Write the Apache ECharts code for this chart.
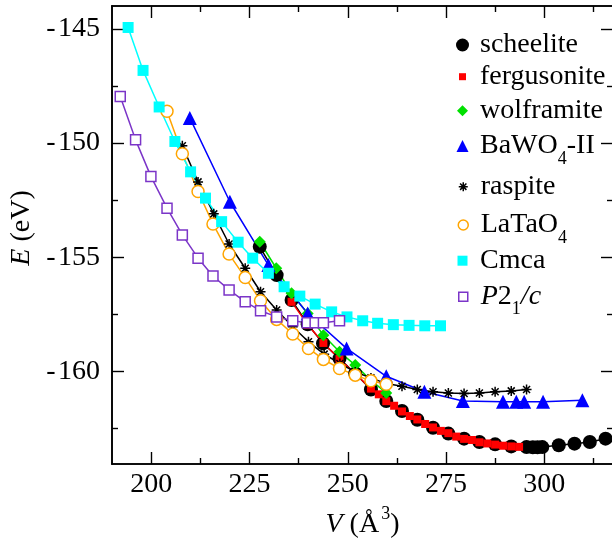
<!DOCTYPE html>
<html>
<head>
<meta charset="utf-8">
<script src="https://cdn.jsdelivr.net/npm/echarts@6/dist/echarts.min.js"></script>
<style>
  html, body { margin: 0; padding: 0; background: #fff; }
  #chart { width: 612px; height: 547px; }
</style>
</head>
<body>
<div id="chart"></div>
<script>
// Total energy E (eV) against cell volume V (Å^3) for the candidate structures.
const scheeliteV = [227.6, 231.9, 235.7, 239.8, 243.7, 247.9, 251.9, 255.9, 259.8, 263.8, 267.7, 271.7, 275.6, 279.6, 283.5, 287.5, 291.6, 295.5, 297.1, 298.3, 299.5, 303.7, 307.7, 311.6, 315.6];
const scheeliteE = [-154.54, -155.78, -156.87, -157.93, -158.77, -159.43, -160.09, -160.79, -161.29, -161.73, -162.11, -162.46, -162.72, -162.94, -163.09, -163.19, -163.28, -163.31, -163.32, -163.32, -163.31, -163.23, -163.16, -163.09, -162.94];

const fergusoniteV = [235.7, 239.8, 243.8, 247.9, 251.9, 255.9, 257.9, 259.8, 261.8, 263.8, 265.8, 267.7, 269.7, 271.7, 273.7, 275.6, 277.6, 279.6, 281.6, 283.5, 285.5, 287.5, 289.5, 291.6, 293.6];
const fergusoniteE = [-156.95, -157.95, -158.75, -159.45, -160.1, -160.75, -161.0, -161.3, -161.5, -161.75, -161.95, -162.1, -162.3, -162.45, -162.6, -162.7, -162.85, -162.95, -163.0, -163.1, -163.15, -163.2, -163.25, -163.28, -163.3];

const wolframiteV = [227.6, 231.8, 235.7, 239.8, 243.8, 247.9, 251.9, 255.9, 259.8];
const wolframiteE = [-154.32, -155.48, -156.58, -157.46, -158.41, -159.14, -159.72, -160.38, -160.94];

const bawo4V = [209.8, 220.0, 229.8, 239.8, 249.7, 259.8, 269.5, 279.3, 289.5, 292.9, 294.9, 299.7, 309.7];
const bawo4E = [-148.9, -152.57, -155.34, -157.46, -158.99, -160.21, -160.89, -161.29, -161.33, -161.33, -161.33, -161.33, -161.26];

const raspiteV = [207.9, 211.9, 215.9, 219.8, 223.9, 227.8, 231.9, 236.0, 240.0, 244.0, 248.0, 251.9, 255.9, 259.8, 263.8, 267.7, 271.7, 275.6, 279.6, 283.5, 287.5, 291.6, 295.5];
const raspiteE = [-150.12, -151.7, -153.1, -154.42, -155.48, -156.51, -157.31, -158.04, -158.7, -159.24, -159.65, -160.02, -160.28, -160.53, -160.65, -160.79, -160.89, -160.94, -160.96, -160.94, -160.89, -160.85, -160.79];

const latao4V = [204.0, 207.9, 211.9, 215.7, 219.8, 223.9, 227.8, 231.9, 236.0, 240.0, 243.8, 247.9, 251.9, 255.9, 259.8];
const latao4E = [-148.61, -150.47, -152.12, -153.54, -154.86, -155.89, -156.9, -157.72, -158.36, -158.99, -159.47, -159.87, -160.16, -160.41, -160.56];

const cmcaV = [194.1, 197.9, 202.0, 206.0, 210.0, 213.8, 217.9, 222.1, 225.8, 229.8, 233.8, 237.8, 241.7, 245.9, 249.8, 253.8, 257.6, 261.6, 265.6, 269.6, 273.6];
const cmcaE = [-144.94, -146.82, -148.42, -149.93, -151.26, -152.41, -153.44, -154.34, -155.04, -155.7, -156.29, -156.7, -157.05, -157.39, -157.61, -157.78, -157.89, -157.95, -157.98, -158.0, -158.0];

const p21cV = [192.1, 196.0, 199.9, 204.0, 207.9, 211.9, 215.7, 219.8, 223.9, 227.8, 231.9, 236.0, 239.7, 241.7, 243.8, 247.9];
const p21cE = [-147.96, -149.86, -151.46, -152.85, -154.02, -155.04, -155.82, -156.43, -156.95, -157.34, -157.61, -157.78, -157.87, -157.87, -157.87, -157.78];

// Axis ranges and tick positions
const xRange = [190, 317.5];
const yRange = [-164.05, -144];
const xMajorTicks = [200, 225, 250, 275, 300];
const xMinorTicks = [212.5, 237.5, 262.5, 287.5, 312.5];
const yMajorTicks = [-160, -155, -150, -145];
const yMinorTicks = [-162.5, -157.5, -152.5, -147.5];

const FONT = 'Liberation Serif';
const pairs = (xs, ys) => xs.map((x, i) => [x, ys[i]]);

// Eight-armed asterisk drawn as strokes
const asteriskPath = 'path://M0,5L10,5M5,0L5,10M1.5,1.5L8.5,8.5M1.5,8.5L8.5,1.5';

// Every legend label carries a subscript slot so all rows share one box height
const seriesDefs = [
  { name: 'scheelite', label: '{t|scheelite}{s| }', xs: scheeliteV, ys: scheeliteE, color: '#000000',
    symbol: 'circle', size: 14, fill: '#000000', border: 0, legendY: 45, legendSize: 13 },
  { name: 'fergusonite', label: '{t|fergusonite}{s| }', xs: fergusoniteV, ys: fergusoniteE, color: '#ff0000',
    symbol: 'rect', size: 8, fill: '#ff0000', border: 0, legendY: 76.7, legendSize: 7 },
  { name: 'wolframite', label: '{t|wolframite}{s| }', xs: wolframiteV, ys: wolframiteE, color: '#00e000',
    symbol: 'diamond', size: 12, fill: '#00e000', border: 0, legendY: 110.7, legendSize: 11 },
  { name: 'BaWO4-II', label: '{t|BaWO}{s|4}{t|-II}', xs: bawo4V, ys: bawo4E, color: '#0000ff',
    symbol: 'triangle', size: 14, fill: '#0000ff', border: 0, legendY: 146, legendSize: 12 },
  { name: 'raspite', label: '{t|raspite}{s| }', xs: raspiteV, ys: raspiteE, color: '#000000',
    symbol: asteriskPath, size: 10, fill: 'none', border: 1.5, legendY: 186.7, legendSize: 9 },
  { name: 'LaTaO4', label: '{t|LaTaO}{s|4}', xs: latao4V, ys: latao4E, color: '#ffa500',
    symbol: 'circle', size: 12, fill: '#ffffff', border: 1.5, legendY: 225, legendSize: 10 },
  { name: 'Cmca', label: '{t|Cmca}{s| }', xs: cmcaV, ys: cmcaE, color: '#00ffff',
    symbol: 'rect', size: 11, fill: '#00ffff', border: 0, legendY: 260.7, legendSize: 10 },
  { name: 'P21/c', label: '{i|P}{t|2}{s|1}{i|/c}', xs: p21cV, ys: p21cE, color: '#7b35c8',
    symbol: 'rect', size: 10, fill: '#ffffff', border: 1.5, legendY: 296.7, legendSize: 9 }
];

const legendRich = {
  t: { fontFamily: FONT, fontSize: 28, color: '#000', lineHeight: 44 },
  i: { fontFamily: FONT, fontSize: 28, color: '#000', lineHeight: 44, fontStyle: 'italic' },
  s: { fontFamily: FONT, fontSize: 18, color: '#000', lineHeight: 18, padding: [26, 0, 0, 0] }
};

const series = seriesDefs.map(d => ({
  name: d.name,
  type: 'line',
  xAxisIndex: 0,
  yAxisIndex: 0,
  data: pairs(d.xs, d.ys),
  symbol: d.symbol,
  symbolSize: d.size,
  showAllSymbol: true,
  animation: false,
  lineStyle: { color: d.color, width: 1.5 },
  itemStyle: {
    color: d.fill === 'none' ? d.color : d.fill,
    borderColor: d.color,
    borderWidth: d.border
  },
  emphasis: { disabled: true }
}));

// One legend block per structure so each row sits at its own height
const legends = seriesDefs.map(d => ({
  left: 462.5 - d.legendSize / 2,
  top: d.legendY - 22,
  orient: 'vertical',
  padding: 0,
  itemWidth: d.legendSize,
  itemHeight: d.legendSize,
  selectedMode: false,
  data: [{
    name: d.name,
    icon: d.symbol,
    itemStyle: {
      color: d.fill === 'none' ? d.color : d.fill,
      borderColor: d.color,
      borderWidth: d.border
    }
  }],
  formatter: () => d.label,
  textStyle: {
    fontFamily: FONT, fontSize: 28, color: '#000',
    padding: [0, 0, 0, 12.5 - d.legendSize / 2],
    rich: legendRich
  }
}));

const axisLineStyle = { color: '#000', width: 1.6 };

function xAxisOf(position, ticks, len, labels, extra) {
  return Object.assign({
    type: 'value',
    position: position,
    min: xRange[0],
    max: xRange[1],
    splitLine: { show: false },
    axisLine: { show: true, onZero: false, lineStyle: axisLineStyle },
    axisTick: { show: true, inside: true, length: len, customValues: ticks, lineStyle: { color: '#000', width: 1.4 } },
    axisLabel: labels
      ? { show: true, customValues: ticks, margin: 7, fontFamily: FONT, fontSize: 28, color: '#000' }
      : { show: false }
  }, extra || {});
}

function yAxisOf(position, ticks, len, labels, extra) {
  return Object.assign({
    type: 'value',
    position: position,
    min: yRange[0],
    max: yRange[1],
    splitLine: { show: false },
    axisLine: { show: true, onZero: false, lineStyle: axisLineStyle },
    axisTick: { show: true, inside: true, length: len, customValues: ticks, lineStyle: { color: '#000', width: 1.4 } },
    axisLabel: labels
      ? {
          show: true, customValues: ticks, margin: 12, fontFamily: FONT, fontSize: 28, color: '#000',
          // hyphen followed by a hair space before the magnitude
          formatter: v => (v < 0 ? '-\u200A' + Math.abs(v) : String(v))
        }
      : { show: false }
  }, extra || {});
}

const option = {
  animation: false,
  backgroundColor: '#ffffff',
  grid: { left: 112, right: -1, top: 6, bottom: 83, containLabel: false, outerBoundsMode: 'none' },
  xAxis: [
    xAxisOf('bottom', xMajorTicks, 12, true, {
      name: '{i|V}{t| (Å}{p|3}{t|)}',
      nameLocation: 'middle',
      nameGap: 41,
      nameTextStyle: {
        fontFamily: FONT, fontSize: 28, color: '#000',
        rich: {
          t: { fontFamily: FONT, fontSize: 28, color: '#000', lineHeight: 40 },
          i: { fontFamily: FONT, fontSize: 28, color: '#000', lineHeight: 40, fontStyle: 'italic' },
          p: { fontFamily: FONT, fontSize: 18, color: '#000', lineHeight: 18, padding: [0, 0, 22, 2] }
        }
      }
    }),
    xAxisOf('bottom', xMinorTicks, 6, false),
    xAxisOf('top', xMajorTicks, 12, false),
    xAxisOf('top', xMinorTicks, 6, false)
  ],
  yAxis: [
    yAxisOf('left', yMajorTicks, 12, true, {
      name: '{i|E}{t| (eV)}',
      nameLocation: 'middle',
      nameGap: 64,
      nameTextStyle: {
        fontFamily: FONT, fontSize: 28, color: '#000',
        padding: [0, 0, 0, 14],
        rich: {
          t: { fontFamily: FONT, fontSize: 28, color: '#000' },
          i: { fontFamily: FONT, fontSize: 28, color: '#000', fontStyle: 'italic' }
        }
      }
    }),
    yAxisOf('left', yMinorTicks, 6, false),
    yAxisOf('right', yMajorTicks, 12, false),
    yAxisOf('right', yMinorTicks, 6, false)
  ],
  legend: legends,
  series: series
};

const chart = echarts.init(document.getElementById('chart'), null, { renderer: 'canvas' });
chart.setOption(option);
</script>
</body>
</html>
